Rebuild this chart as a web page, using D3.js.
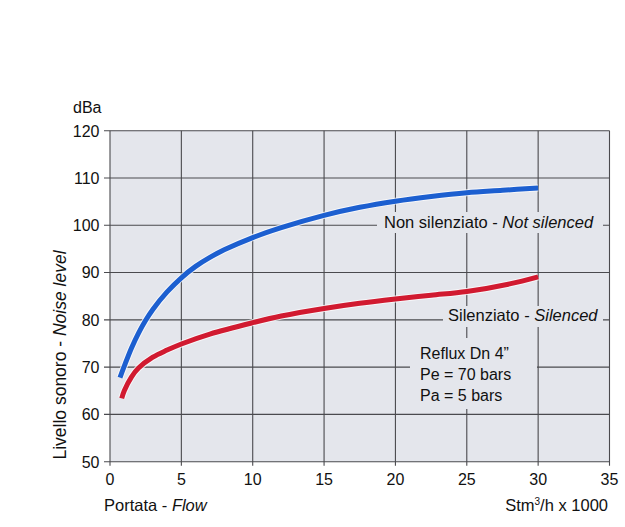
<!DOCTYPE html>
<html><head><meta charset="utf-8">
<script src="https://cdn.jsdelivr.net/npm/d3@7/dist/d3.min.js"></script>
<style>body{margin:0;background:#fff}svg{display:block}text{font-family:"Liberation Sans",Arial,sans-serif;fill:#111}</style>
</head><body>
<script>
const xTicks = [0,5,10,15,20,25,30,35];
const yTicks = [50,60,70,80,90,100,110,120];
const flowNotSilenced = [0.7,1,1.5,2,2.5,3,4,5,6,7,8,10,12,15,17.5,20,22.5,25,27.5,30];
const notSilenced =     [67.8,70.2,74,77.2,79.9,82.2,85.9,88.9,91.3,93.2,94.8,97.4,99.5,102.1,103.8,105.1,106.1,106.9,107.4,107.9];
const flowSilenced = [0.82,1,1.5,2,3,4,5,7,10,12,15,17.5,20,22.5,25,28,30];
const silenced =     [63.4,65,67.9,69.8,72.1,73.6,74.9,77.0,79.4,80.8,82.4,83.5,84.4,85.2,86,87.6,89.1];
const seriesLabels = ["Non silenziato - ", "Not silenced", "Silenziato - ", "Silenced"];
const noteLines = ["Reflux Dn 4\u201D", "Pe = 70 bars", "Pa = 5 bars"];

const W=625,H=527;
const svg=d3.select("body").append("svg").attr("width",W).attr("height",H);
const x=d3.scaleLinear().domain([0,35]).range([110,609.5]);
const y=d3.scaleLinear().domain([50,120]).range([461.7,130.7]);
const bg="#e4e6ec", grid="#4a4a4e";

svg.append("rect").attr("x",x(0)).attr("y",y(120)).attr("width",x(35)-x(0)).attr("height",y(50)-y(120)).attr("fill",bg);

// grid
const g=svg.append("g").attr("stroke",grid).attr("stroke-width",1.1);
g.selectAll(".h").data(yTicks).join("line").attr("x1",x(0)-6).attr("x2",x(35)).attr("y1",d=>y(d)).attr("y2",d=>y(d));
g.selectAll(".v").data(xTicks).join("line").attr("y1",y(120)).attr("y2",y(50)+4).attr("x1",d=>x(d)).attr("x2",d=>x(d));

// tick labels
svg.append("g").selectAll("text").data(yTicks).join("text")
  .attr("x",99.5).attr("y",d=>y(d)+5.8).attr("text-anchor","end").attr("font-size",16).text(d=>d);
svg.append("g").selectAll("text").data(xTicks).join("text")
  .attr("x",d=>x(d)).attr("y",485).attr("text-anchor","middle").attr("font-size",16).text(d=>d);

svg.append("text").attr("x",73).attr("y",112.5).attr("font-size",16).text("dBa");
const px=svg.append("text").attr("x",104).attr("y",511).attr("font-size",16.5);
px.append("tspan").text("Portata - ");
px.append("tspan").attr("font-style","italic").text("Flow");
const st=svg.append("text").attr("x",608).attr("y",511).attr("text-anchor","end").attr("font-size",16.5);
st.append("tspan").text("Stm");
st.append("tspan").attr("font-size",10).attr("dy",-6).text("3");
st.append("tspan").attr("dy",6).text("/h x 1000");
const yl=svg.append("text").attr("transform","translate(66,355) rotate(-90)").attr("text-anchor","middle").attr("font-size",17.5);
yl.append("tspan").text("Livello sonoro - ");
yl.append("tspan").attr("font-style","italic").text("Noise level");

// label backgrounds
svg.append("rect").attr("x",377).attr("y",212).attr("width",226).attr("height",21).attr("fill",bg);
svg.append("rect").attr("x",443).attr("y",306).attr("width",160).attr("height",21).attr("fill",bg);
svg.append("rect").attr("x",410).attr("y",338).attr("width",127).attr("height",71).attr("fill",bg);

// curves
const line=d3.line().curve(d3.curveCatmullRom.alpha(0.5));
function drawCurve(xs,ys,color){
  const pts=xs.map((d,i)=>[x(d),y(ys[i])]);
  svg.append("path").attr("d",line(pts)).attr("fill","none").attr("stroke","#fbfbfd").attr("stroke-width",7).attr("opacity",0.8);
  svg.append("path").attr("d",line(pts)).attr("fill","none").attr("stroke",color).attr("stroke-width",5);
}
drawCurve(flowNotSilenced,notSilenced,"#1c5fd0");
drawCurve(flowSilenced,silenced,"#d11a30");

const t1=svg.append("text").attr("x",384).attr("y",227.5).attr("font-size",16.5);
t1.append("tspan").text(seriesLabels[0]);
t1.append("tspan").attr("font-style","italic").text(seriesLabels[1]);
const t2=svg.append("text").attr("x",448).attr("y",321).attr("font-size",16.5);
t2.append("tspan").text(seriesLabels[2]);
t2.append("tspan").attr("font-style","italic").text(seriesLabels[3]);
svg.append("g").selectAll("text").data(noteLines).join("text")
  .attr("x",420).attr("y",(d,i)=>359+i*21).attr("font-size",16).text(d=>d);
</script>
</body></html>
